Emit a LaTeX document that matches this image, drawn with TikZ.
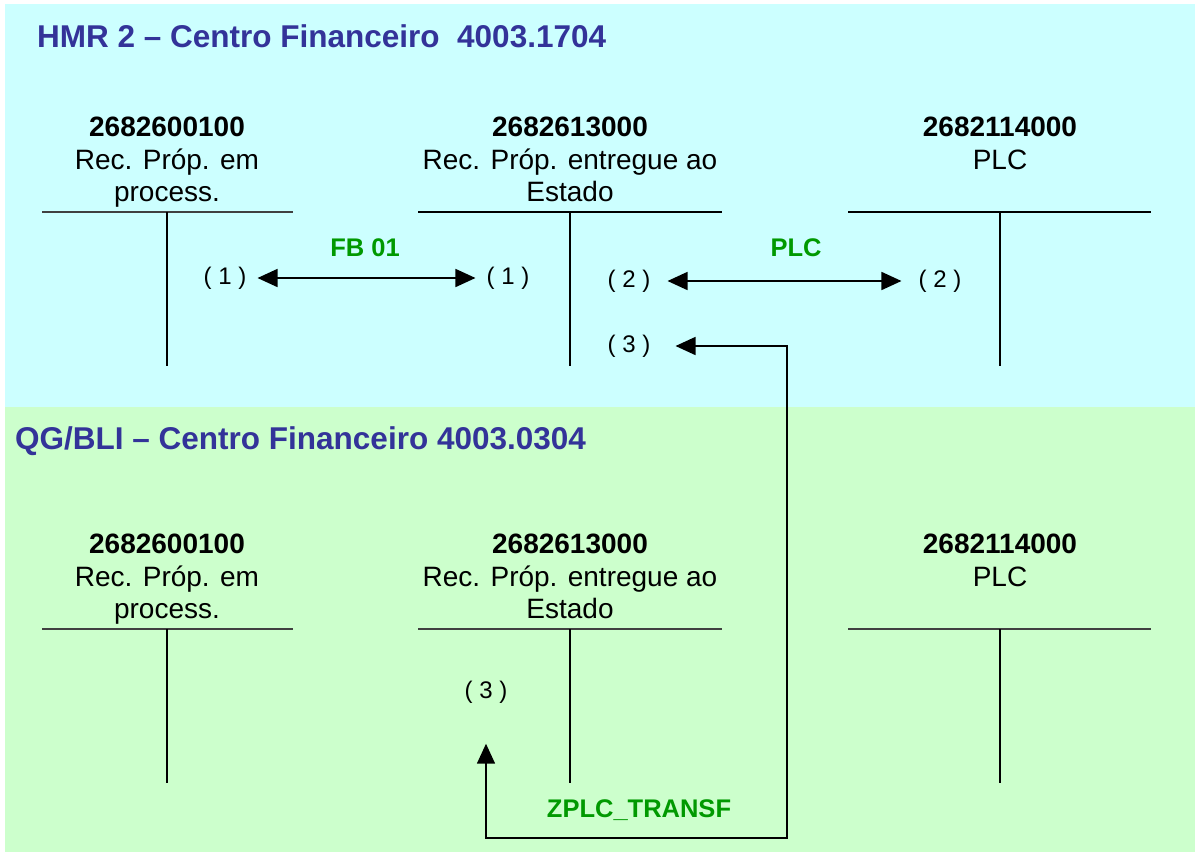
\documentclass[tikz,border=0pt]{standalone}
\usepackage{fontspec}
\setmainfont{Liberation Sans}
\usetikzlibrary{arrows.meta}
\definecolor{hmrcyan}{RGB}{204,255,255}
\definecolor{qggreen}{RGB}{204,255,204}
\definecolor{titleblue}{RGB}{51,51,153}
\definecolor{movegreen}{RGB}{0,153,0}
\tikzset{title/.style={font=\fontsize{31.5}{36}\selectfont\bfseries, text=titleblue, anchor=base west, inner sep=0pt},
	acct/.style={align=center, anchor=north, inner sep=0pt, font=\fontsize{28}{32.5}\selectfont},
	entry/.style={font=\fontsize{24}{28}\selectfont, inner xsep=11pt},
	movelabel/.style={font=\fontsize{25.5}{30}\selectfont\bfseries, text=movegreen},
	tline/.style={line width=1.3pt},
	vline/.style={line width=1.6pt},
	arr/.style={line width=1.6pt, {Triangle[length=20pt,width=18pt]}-{Triangle[length=20pt,width=18pt]}}}

\begin{document}
\begin{tikzpicture}[x=1pt,y=-1pt]
		\useasboundingbox (0,0) rectangle (1195,852);
		\fill[hmrcyan] (5,4) rectangle (1195,407); %HMR 2 band
		\fill[qggreen] (5,407) rectangle (1195,852); %QG/BLI band
		\node[title] (hmr) at (37,47) {HMR 2 -- Centro Financeiro\ \ 4003.1704};
		\node[title] (qg) at (15,449) {QG/BLI -- Centro Financeiro 4003.0304};
		\foreach \s/\t/\ca/\cb in {0/top/darkgray/black, 417/bot/darkgray/darkgray}{
		\begin{scope}[yshift=-\s pt]
			\node[acct] (\t a) at (167,117) {\textbf{2682600100}\\Rec. Próp. em\\process.};
			\node[acct] (\t b) at (570,117) {\textbf{2682613000}\\Rec. Próp. entregue ao\\Estado};
			\node[acct] (\t c) at (1000,117) {\textbf{2682114000}\\PLC};
			\draw[tline,\ca] (42,212) -- (293,212); %T of each account
			\draw[tline,\cb] (418,212) -- (722,212);
			\draw[tline,\cb] (848,212) -- (1151,212);
			\foreach \x in {167,570,1000}
			\draw[vline] (\x,212) -- (\x,366);
		\end{scope}}
		\node[entry] (d1) at (225,278) {( 1 )};
		\node[entry] (c1) at (508,278) {( 1 )};
		\node[entry,inner xsep=17pt] (d2) at (629,281) {( 2 )};
		\node[entry,inner xsep=17pt] (c2) at (940,281) {( 2 )};
		\node[entry,inner xsep=25pt] (d3) at (629,346) {( 3 )};
		\node[entry] (c3) at (486,692) {( 3 )};
		\draw[arr] (d1) -- (c1); %FB 01
		\draw[arr] (d2) -- (c2); %PLC
		\draw[arr, shorten >=37pt] (d3) -| (787,838) -| (c3); %ZPLC_TRANSF
		\node[movelabel] (fb) at (365,248) {FB 01};
		\node[movelabel] (plc) at (796,248) {PLC};
		\node[movelabel] (zplc) at (639,810) {ZPLC\_TRANSF};
	\end{tikzpicture}
\end{document}
